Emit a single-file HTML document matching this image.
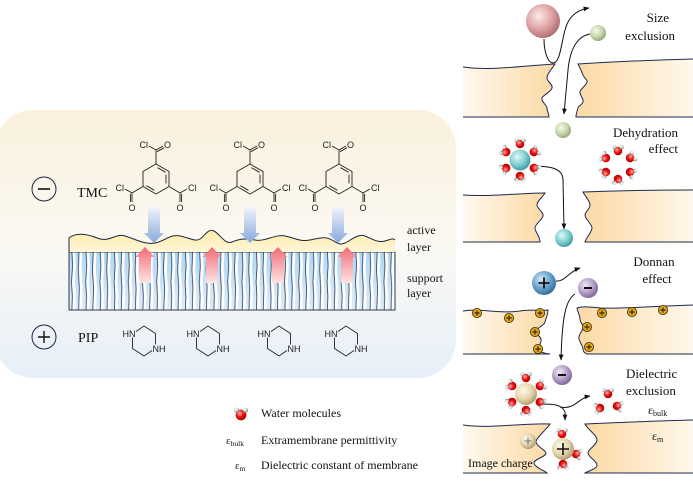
<!DOCTYPE html>
<html><head><meta charset="utf-8"><style>
html,body{margin:0;padding:0;background:#fff;}
svg{display:block;}
</style></head><body>
<svg width="693" height="482" viewBox="0 0 693 482" xmlns="http://www.w3.org/2000/svg" xmlns:xlink="http://www.w3.org/1999/xlink">
<defs>
<linearGradient id="pan" x1="0" y1="0" x2="0" y2="1">
<stop offset="0" stop-color="#faf0dc"/><stop offset="0.5" stop-color="#fbf9f3"/><stop offset="1" stop-color="#e6eff9"/>
</linearGradient>
<linearGradient id="act" x1="0" y1="0" x2="0" y2="1"><stop offset="0" stop-color="#fdeca8"/><stop offset="1" stop-color="#fff6d8"/></linearGradient>
<linearGradient id="sup" x1="0" y1="0" x2="0" y2="1"><stop offset="0" stop-color="#aed7f5"/><stop offset="1" stop-color="#dcedfb"/></linearGradient>
<pattern id="str" patternUnits="userSpaceOnUse" x="69" y="252" width="14.2" height="58">
<path d="M4.8 0 L5.4 14 L4.4 30 L5.2 44 L4.8 58" stroke="#fff" stroke-width="2.8" fill="none"/>
<path d="M2.9 0 L3.5 14 L2.5 30 L3.3 44 L2.9 58" stroke="#2a2f45" stroke-width="0.75" fill="none"/>
<path d="M11.9 0 L11.2 18 L12.2 36 L11.5 58" stroke="#fff" stroke-width="2.8" fill="none"/>
<path d="M10 0 L9.3 18 L10.3 36 L9.6 58" stroke="#2a2f45" stroke-width="0.75" fill="none"/>
</pattern>
<linearGradient id="ba" x1="0" y1="0" x2="0" y2="1"><stop offset="0" stop-color="#f1f4fb"/><stop offset="1" stop-color="#88a8dc"/></linearGradient>
<linearGradient id="ra" x1="0" y1="0" x2="0" y2="1"><stop offset="0" stop-color="#f26b76"/><stop offset="1" stop-color="#fde4e4"/></linearGradient>
<linearGradient id="mL" x1="0" y1="0" x2="1" y2="0"><stop offset="0" stop-color="#fff9ef"/><stop offset="1" stop-color="#fcd9a4"/></linearGradient>
<linearGradient id="mR" x1="0" y1="0" x2="1" y2="0"><stop offset="0" stop-color="#fcd9a4"/><stop offset="1" stop-color="#fff8ec"/></linearGradient>
<radialGradient id="gPink" cx="0.38" cy="0.35" r="0.7"><stop offset="0" stop-color="#fbeaea"/><stop offset="0.55" stop-color="#e0a3a5"/><stop offset="1" stop-color="#a86a6c"/></radialGradient>
<radialGradient id="gGreen" cx="0.38" cy="0.35" r="0.7"><stop offset="0" stop-color="#f4f8ec"/><stop offset="0.55" stop-color="#c7d8ad"/><stop offset="1" stop-color="#8ea372"/></radialGradient>
<radialGradient id="gCyan" cx="0.38" cy="0.35" r="0.7"><stop offset="0" stop-color="#e4f8f8"/><stop offset="0.55" stop-color="#7fd0d2"/><stop offset="1" stop-color="#3c96a0"/></radialGradient>
<radialGradient id="gBlue" cx="0.38" cy="0.35" r="0.7"><stop offset="0" stop-color="#d7e9f6"/><stop offset="0.55" stop-color="#6aa4cf"/><stop offset="1" stop-color="#2f6796"/></radialGradient>
<radialGradient id="gPurp" cx="0.38" cy="0.35" r="0.7"><stop offset="0" stop-color="#f0e8f5"/><stop offset="0.55" stop-color="#b6a0c8"/><stop offset="1" stop-color="#7a6292"/></radialGradient>
<radialGradient id="gBeige" cx="0.38" cy="0.35" r="0.7"><stop offset="0" stop-color="#fffaf0"/><stop offset="0.55" stop-color="#e6d6ad"/><stop offset="1" stop-color="#a89468"/></radialGradient>
<radialGradient id="gRed" cx="0.38" cy="0.35" r="0.7"><stop offset="0" stop-color="#ffb4b4"/><stop offset="0.5" stop-color="#f01010"/><stop offset="1" stop-color="#a00000"/></radialGradient>
<radialGradient id="gH" cx="0.4" cy="0.35" r="0.7"><stop offset="0" stop-color="#ffffff"/><stop offset="0.5" stop-color="#d4d4d4"/><stop offset="1" stop-color="#6e6e6e"/></radialGradient>
<marker id="ah" viewBox="0 0 10 10" refX="9" refY="5" markerWidth="6" markerHeight="6" orient="auto"><path d="M0,1 L10,5 L0,9 Z" fill="#111"/></marker>
<g id="w"><circle r="4.3" fill="url(#gRed)"/><circle cx="-3.6" cy="-3.9" r="2.1" fill="url(#gH)"/><circle cx="3.6" cy="-3.9" r="2.1" fill="url(#gH)"/></g>
<g id="pc"><circle r="4.6" fill="#dfa418" stroke="#3a2a00" stroke-width="0.8"/><path d="M-2.6,0H2.6M0,-2.6V2.6" stroke="#111" stroke-width="0.9"/></g>
<g id="tmc" fill="none" stroke="#222" stroke-width="0.9">
<path d="M0,-15 L13,-7.5 L13,7.5 L0,15 L-13,7.5 L-13,-7.5 Z"/>
<path d="M1.6,-11.3 L9.6,-6.7 M10,-4.5 L10,4.5 M-1.6,11.3 L-9.6,6.7"/>
<path d="M0,-15 L0,-29 L-7,-33 M0,-29 L7,-33 M1,-27.3 L8,-31.3"/>
<path d="M13,7.5 L24,14 L24,23 M25.6,15 L25.6,23 M24,14 L31,10"/>
<path d="M-13,7.5 L-24,14 L-24,23 M-25.6,15 L-25.6,23 M-24,14 L-31,10"/>
</g>
<g id="pip" fill="none" stroke="#222" stroke-width="0.9">
<path d="M-8,-9.5 L0,-15 L11.5,-7.5 L11.5,3.5"/>
<path d="M8,9.5 L0,15 L-11.5,7.5 L-11.5,-3.5"/>
</g>
</defs>

<!-- Left panel -->
<rect x="-5" y="110" width="461" height="268" rx="38" ry="38" fill="url(#pan)"/>

<circle cx="44" cy="189" r="12" fill="none" stroke="#1d2540" stroke-width="1"/>
<path d="M38,189 H50" stroke="#111" stroke-width="1.6"/>
<text x="77" y="197" font-family="Liberation Serif, serif" font-size="14" fill="#111">TMC</text>

<circle cx="44" cy="337" r="12" fill="none" stroke="#1d2540" stroke-width="1"/>
<path d="M38,337 H50 M44,331 V343" stroke="#111" stroke-width="1.4"/>
<text x="78" y="342" font-family="Liberation Serif, serif" font-size="14" fill="#111">PIP</text>

<!-- TMC molecules -->
<g font-family="Liberation Sans, sans-serif" font-size="9" fill="#222">
<g transform="translate(156,179)"><use xlink:href="#tmc" href="#tmc"/>
<text x="-8" y="-31" text-anchor="end">Cl</text><text x="8" y="-31">O</text>
<text x="-24" y="32" text-anchor="middle">O</text><text x="24" y="32" text-anchor="middle">O</text>
<text x="-32" y="12" text-anchor="end">Cl</text><text x="32" y="12">Cl</text></g>
<g transform="translate(250,179)"><use xlink:href="#tmc" href="#tmc"/>
<text x="-8" y="-31" text-anchor="end">Cl</text><text x="8" y="-31">O</text>
<text x="-24" y="32" text-anchor="middle">O</text><text x="24" y="32" text-anchor="middle">O</text>
<text x="-32" y="12" text-anchor="end">Cl</text><text x="32" y="12">Cl</text></g>
<g transform="translate(339,179)"><use xlink:href="#tmc" href="#tmc"/>
<text x="-8" y="-31" text-anchor="end">Cl</text><text x="8" y="-31">O</text>
<text x="-24" y="32" text-anchor="middle">O</text><text x="24" y="32" text-anchor="middle">O</text>
<text x="-32" y="12" text-anchor="end">Cl</text><text x="32" y="12">Cl</text></g>
</g>

<!-- membrane -->
<rect x="69" y="252" width="326" height="58" fill="url(#sup)"/>
<rect x="69" y="252" width="326" height="58" fill="url(#str)"/>
<rect x="69" y="252" width="326" height="58" fill="none" stroke="#1d2540" stroke-width="0.9"/>
<path d="M69,252 L69,238 C75,233 85,233 97,238 S115,233 125,236 S145,245 155,243 S170,234 180,236 S195,242 200,239 S208,228 214,231 S225,245 232,242 S245,238 255,240 S275,234 285,236 S300,242 310,240 S325,236 332,240 S340,245 345,243 S358,233 365,236 S378,243 385,241 S393,238 395,240 L395,252 Z" fill="url(#act)"/>
<path d="M69,252 L69,238 C75,233 85,233 97,238 S115,233 125,236 S145,245 155,243 S170,234 180,236 S195,242 200,239 S208,228 214,231 S225,245 232,242 S245,238 255,240 S275,234 285,236 S300,242 310,240 S325,236 332,240 S340,245 345,243 S358,233 365,236 S378,243 385,241 S393,238 395,240" fill="none" stroke="#1d2540" stroke-width="1"/>

<!-- blue arrows -->
<path d="M148,207 H160 V233 H164 L154,243 L144,233 H148 Z" fill="url(#ba)"/>
<path d="M244,207 H256 V233 H260 L250,243 L240,233 H244 Z" fill="url(#ba)"/>
<path d="M332,207 H344 V233 H348 L338,243 L328,233 H332 Z" fill="url(#ba)"/>
<!-- red arrows -->
<path d="M139,283 V257 H135.5 L145,247 L154.5,257 H151 V283 Z" fill="url(#ra)"/>
<path d="M206,283 V257 H202.5 L212,247 L221.5,257 H218 V283 Z" fill="url(#ra)"/>
<path d="M272,283 V257 H268.5 L278,247 L287.5,257 H284 V283 Z" fill="url(#ra)"/>
<path d="M341,283 V257 H337.5 L347,247 L356.5,257 H353 V283 Z" fill="url(#ra)"/>

<g font-family="Liberation Serif, serif" font-size="12" fill="#111">
<text x="407" y="234">active</text><text x="407" y="251">layer</text>
<text x="407" y="282">support</text><text x="407" y="297">layer</text>
</g>

<!-- PIP molecules -->
<g font-family="Liberation Sans, sans-serif" font-size="9" fill="#222">
<g transform="translate(144,341)"><use xlink:href="#pip" href="#pip"/><text x="-8.5" y="-4" text-anchor="end">HN</text><text x="8.5" y="11">NH</text></g>
<g transform="translate(208,341)"><use xlink:href="#pip" href="#pip"/><text x="-8.5" y="-4" text-anchor="end">HN</text><text x="8.5" y="11">NH</text></g>
<g transform="translate(279,341)"><use xlink:href="#pip" href="#pip"/><text x="-8.5" y="-4" text-anchor="end">HN</text><text x="8.5" y="11">NH</text></g>
<g transform="translate(346,341)"><use xlink:href="#pip" href="#pip"/><text x="-8.5" y="-4" text-anchor="end">HN</text><text x="8.5" y="11">NH</text></g>
</g>

<!-- Legend -->
<use xlink:href="#w" href="#w" transform="translate(241,415) scale(1.25)"/>
<g font-family="Liberation Serif, serif" font-size="12" fill="#111">
<text x="261" y="417">Water molecules</text>
<text x="226" y="444" font-size="11">ε<tspan font-size="7.5" dy="2">bulk</tspan></text>
<text x="261" y="444">Extramembrane permittivity</text>
<text x="235" y="469" font-size="11">ε<tspan font-size="7.5" dy="2">m</tspan></text>
<text x="261" y="469">Dielectric constant of membrane</text>
</g>

<!-- Right panel: membrane blocks -->
<g stroke="#1d2b52" stroke-width="1">
<path d="M463,67 C490,71 520,66 555,64 C551,70 547,74 547,78 C547,82 553,84 552,88 C551,92 543,95 542,98 C541,102 547,105 547,108 C547,111 549,114 549,117 L463,117" fill="url(#mL)"/>
<path d="M693,59 C650,60 610,62 578,64 C580,68 582,72 583,75 C584,78 588,80 587,82 C586,86 580,89 580,92 C580,96 584,99 583,102 C582,105 578,106 578,108 C577,111 576,114 576,117 L693,117" fill="url(#mR)"/>
<path d="M463,195 C490,197 520,193 545,193 C542,198 537,201 537,205 C537,209 544,212 543,216 C542,220 535,224 535,228 C535,232 540,236 540,242 L463,242" fill="url(#mL)"/>
<path d="M693,190 C650,190 610,191 583,192 C585,196 590,201 590,205 C590,209 585,212 585,215 C585,219 592,224 592,228 C592,232 586,238 585,242 L693,242" fill="url(#mR)"/>
<path d="M463,311 C480,308 500,314 520,311 C530,309 540,311 548,310 C548,314 546,318 545,322 C544,326 536,328 536,331 C536,335 542,337 541,341 C540,345 538,348 540,351 C542,353 548,354 550,354 L463,354" fill="url(#mL)"/>
<path d="M693,305 C660,306 620,309 600,308 C590,307 582,306 577,308 C578,313 580,316 580,319 C580,323 584,325 583,328 C582,332 578,335 579,339 C580,343 583,346 583,349 C583,352 585,353 587,354 L693,354" fill="url(#mR)"/>
<path d="M463,425 C490,429 520,423 550,424 C546,430 538,436 536,441 C535,446 546,450 546,453 C546,457 534,459 534,463 C534,467 545,471 547,473 L463,473" fill="url(#mL)"/>
<path d="M693,420 C650,421 610,423 585,424 C588,430 597,435 597,440 C597,445 588,449 588,453 C588,457 597,461 597,465 C597,469 588,471 585,473 L693,473" fill="url(#mR)"/>
</g>

<!-- Section 1: size exclusion -->
<circle cx="543" cy="21" r="17" fill="url(#gPink)"/>
<circle cx="598" cy="33" r="8" fill="url(#gGreen)"/>
<circle cx="563" cy="130" r="8" fill="url(#gGreen)"/>
<path d="M544,39 C544,52 548,63 553,63 C560,63 561,45 565,30 C568,18 576,10 589,8" fill="none" stroke="#111" stroke-width="1" marker-end="url(#ah)"/>
<path d="M590,34 C578,36 570,48 568,70 L564,114" fill="none" stroke="#111" stroke-width="1" marker-end="url(#ah)"/>

<!-- Section 2: dehydration -->
<path d="M531,166 C550,166 563,168 563,180 L564,229" fill="none" stroke="#111" stroke-width="1" marker-end="url(#ah)"/>
<circle cx="520" cy="160" r="10.5" fill="url(#gCyan)"/>
<use xlink:href="#w" href="#w" transform="translate(520,144) rotate(0)"/>
<use xlink:href="#w" href="#w" transform="translate(533.9,152) rotate(60)"/>
<use xlink:href="#w" href="#w" transform="translate(533.9,168) rotate(120)"/>
<use xlink:href="#w" href="#w" transform="translate(520,176) rotate(180)"/>
<use xlink:href="#w" href="#w" transform="translate(506.1,168) rotate(240)"/>
<use xlink:href="#w" href="#w" transform="translate(506.1,152) rotate(300)"/>
<use xlink:href="#w" href="#w" transform="translate(618,151) rotate(0)"/>
<use xlink:href="#w" href="#w" transform="translate(630.1,158) rotate(60)"/>
<use xlink:href="#w" href="#w" transform="translate(630.1,172) rotate(120)"/>
<use xlink:href="#w" href="#w" transform="translate(618,179) rotate(180)"/>
<use xlink:href="#w" href="#w" transform="translate(605.9,172) rotate(240)"/>
<use xlink:href="#w" href="#w" transform="translate(605.9,158) rotate(300)"/>
<circle cx="564" cy="238" r="9" fill="url(#gCyan)"/>

<!-- Section 3: Donnan -->
<path d="M556,281 C565,282 568,272 580,268" fill="none" stroke="#111" stroke-width="1" marker-end="url(#ah)"/>
<path d="M575,294 C565,300 562,320 561,360" fill="none" stroke="#111" stroke-width="1" marker-end="url(#ah)"/>
<circle cx="544" cy="283" r="12" fill="url(#gBlue)"/>
<path d="M538.5,283 H549.5 M544,277.5 V288.5" stroke="#111" stroke-width="1.8"/>
<circle cx="588" cy="288" r="10" fill="url(#gPurp)"/>
<path d="M584,288 H592" stroke="#111" stroke-width="2"/>
<use xlink:href="#pc" href="#pc" x="477" y="313"/>
<use xlink:href="#pc" href="#pc" x="509" y="318"/>
<use xlink:href="#pc" href="#pc" x="540" y="313"/>
<use xlink:href="#pc" href="#pc" x="535" y="332"/>
<use xlink:href="#pc" href="#pc" x="538" y="349"/>
<use xlink:href="#pc" href="#pc" x="602" y="313"/>
<use xlink:href="#pc" href="#pc" x="632" y="312"/>
<use xlink:href="#pc" href="#pc" x="663" y="310"/>
<use xlink:href="#pc" href="#pc" x="587" y="327"/>
<use xlink:href="#pc" href="#pc" x="589" y="347"/>
<circle cx="562" cy="375" r="10" fill="url(#gPurp)"/>
<path d="M558,375 H566" stroke="#111" stroke-width="2"/>

<!-- Section 4: dielectric -->
<path d="M540,404 C552,404 562,404 565,412 L565,420" fill="none" stroke="#111" stroke-width="1" marker-end="url(#ah)"/>
<path d="M560,407 C575,410 578,398 590,396" fill="none" stroke="#111" stroke-width="1" marker-end="url(#ah)"/>
<circle cx="526" cy="394" r="11" fill="url(#gBeige)"/>
<use xlink:href="#w" href="#w" transform="translate(526,378) rotate(0)"/>
<use xlink:href="#w" href="#w" transform="translate(539.9,386) rotate(60)"/>
<use xlink:href="#w" href="#w" transform="translate(539.9,402) rotate(120)"/>
<use xlink:href="#w" href="#w" transform="translate(526,410) rotate(180)"/>
<use xlink:href="#w" href="#w" transform="translate(512.1,402) rotate(240)"/>
<use xlink:href="#w" href="#w" transform="translate(512.1,386) rotate(300)"/>
<use xlink:href="#w" href="#w" transform="translate(608,394) rotate(0)"/>
<use xlink:href="#w" href="#w" transform="translate(600,408) rotate(-100)"/>
<use xlink:href="#w" href="#w" transform="translate(617,406) rotate(100)"/>
<circle cx="528" cy="441" r="8" fill="url(#gBeige)"/>
<path d="M524.5,441 H531.5 M528,437.5 V444.5" stroke="#777" stroke-width="1.1"/>
<use xlink:href="#w" href="#w" transform="translate(562,434) rotate(0)"/>
<use xlink:href="#w" href="#w" transform="translate(576,454) rotate(100)"/>
<use xlink:href="#w" href="#w" transform="translate(563,464) rotate(180)"/>
<circle cx="563" cy="449" r="11" fill="url(#gBeige)"/>
<path d="M557,449 H569 M563,443 V455" stroke="#111" stroke-width="1.6"/>

<!-- right panel text -->
<g font-family="Liberation Serif, serif" font-size="13" fill="#111">
<text x="669" y="22" text-anchor="end">Size</text>
<text x="675" y="40" text-anchor="end">exclusion</text>
<text x="678" y="137" text-anchor="end">Dehydration</text>
<text x="678" y="153" text-anchor="end">effect</text>
<text x="654" y="266" text-anchor="middle">Donnan</text>
<text x="657" y="283" text-anchor="middle">effect</text>
<text x="626" y="378">Dielectric</text>
<text x="626" y="395">exclusion</text>
<text x="648" y="414" font-size="12">ε<tspan font-size="8" dy="2">bulk</tspan></text>
<text x="652" y="440" font-size="12">ε<tspan font-size="8" dy="2">m</tspan></text>
<text x="468" y="467" font-size="12">Image charge</text>
</g>
</svg>
</body></html>
